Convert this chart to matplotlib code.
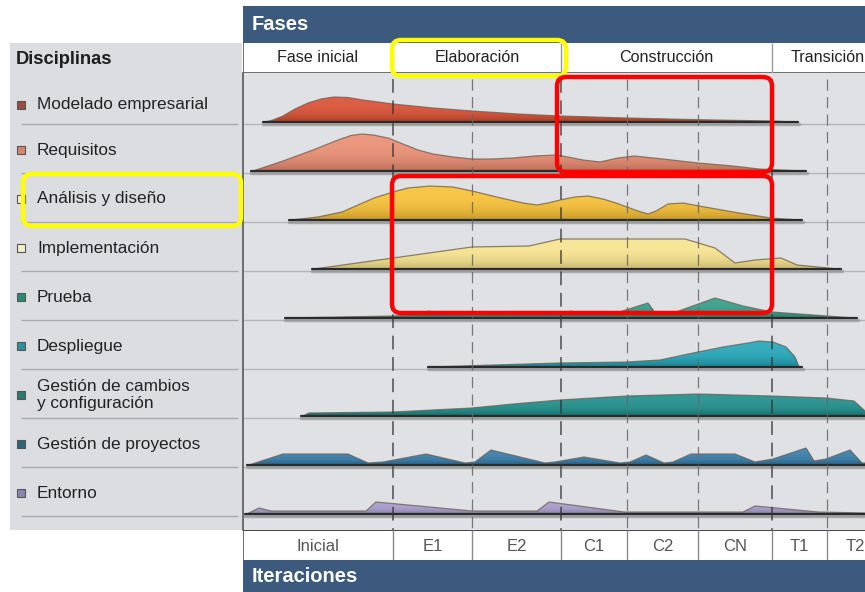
import numpy as np
import matplotlib
matplotlib.use("Agg")
import matplotlib.pyplot as plt
from matplotlib.colors import to_rgb
from matplotlib.patches import Rectangle, FancyBboxPatch

plt.rcParams['font.family'] = ['Liberation Sans', 'DejaVu Sans']

W, H = 865, 592

phases = ["Fase inicial", "Elaboración", "Construcción", "Transición"]
phase_edges = [0, 150, 318, 529, 640]
iterations = ["Inicial", "E1", "E2", "C1", "C2", "CN", "T1", "T2"]
iter_edges = [0, 150, 229, 318, 384, 455, 529, 584, 640]

disciplines = ["Modelado empresarial", "Requisitos", "Análisis y diseño",
               "Implementación", "Prueba", "Despliegue",
               "Gestión de cambios\ny configuración", "Gestión de proyectos",
               "Entorno"]
fill_colors = ["#d8492c", "#e98a6e", "#f7bf2e", "#f8e38a", "#2b9a84",
               "#1ba2b4", "#168a86", "#2f78a6", "#a497c8"]
legend_colors = ["#9c4b45", "#d98472", "#f6edc8", "#f3efc9", "#2b8a77",
                 "#2a929a", "#2a7a70", "#2d6476", "#8c84b4"]

# hump profiles: position on the timeline and height of the effort curve
x_modelado = [22, 30, 40, 52, 65, 78, 91, 105, 120, 150, 190, 229, 275, 317, 384, 455, 528, 552]
h_modelado = [0, 2, 6, 13, 19, 23, 25, 24.5, 22, 18, 14, 11, 8, 6, 4, 2.3, 1, 0]
x_requisitos = [10, 40, 70, 95, 108, 119, 130, 145, 160, 175, 190, 210, 229, 250, 270, 292,
                313, 325, 340, 357, 375, 391, 420, 455, 490, 516, 560]
h_requisitos = [0, 10, 21, 31, 35.5, 37, 36, 33, 27, 21, 17, 14, 12, 12, 13, 15,
                16, 14, 11, 9, 13, 15, 12, 8, 5, 2, 0]
x_analisis = [48, 75, 99, 115, 131, 150, 165, 187, 210, 229, 258, 280, 294, 305, 317, 332, 345,
              360, 373, 395, 405, 413, 425, 440, 456, 496, 528, 556]
h_analisis = [0, 3, 8, 15, 22, 28, 32, 34, 33, 29, 22, 17, 15, 17, 20, 23, 24,
              21, 17, 9, 6, 9, 16, 17, 14, 7, 2, 0]
x_implementacion = [71, 150, 229, 286, 317, 442, 472, 492, 512, 538, 554, 575, 595]
h_implementacion = [0, 11, 22, 23, 30, 30, 21, 6, 9, 11, 4, 2, 0]
x_prueba = [44, 150, 172, 186, 200, 229, 248, 258, 270, 300, 318, 328, 345, 373, 405,
            413, 433, 472, 500, 529, 584, 611]
h_prueba = [0, 2, 3, 7, 3, 3, 4, 6, 3, 3, 4, 7, 3, 5, 15, 4, 6, 20, 12, 6, 2, 0]
x_despliegue = [187, 250, 317, 384, 417, 450, 480, 505, 516, 530, 543, 552, 556]
h_despliegue = [0, 2, 4, 5, 7, 14, 20, 24, 26, 25, 20, 10, 0]
x_cambios = [60, 66, 150, 229, 270, 317, 350, 384, 455, 528, 583, 611, 622]
h_cambios = [0, 3, 4, 8, 12, 16, 18, 20, 22, 20, 18, 15, 5]
x_proyectos = [6, 40, 105, 125, 140, 183, 222, 232, 248, 302, 312, 341, 377, 387, 403,
               421, 430, 448, 492, 512, 530, 563, 571, 583, 607, 619, 622]
h_proyectos = [0, 11, 11, 2, 3, 11, 2, 3, 15, 2, 3, 8, 2, 3, 10,
               2, 3, 11, 11, 3, 6, 17, 4, 6, 15, 2, 2]
x_entorno = [4, 16, 28, 123, 133, 229, 294, 306, 381, 500, 512, 575, 622]
h_entorno = [0, 6, 3, 3, 12, 3, 3, 12, 2, 2, 8, 2, 1]

profiles = [(x_modelado, h_modelado), (x_requisitos, h_requisitos),
            (x_analisis, h_analisis), (x_implementacion, h_implementacion),
            (x_prueba, h_prueba), (x_despliegue, h_despliegue),
            (x_cambios, h_cambios), (x_proyectos, h_proyectos),
            (x_entorno, h_entorno)]

header_blue = "#3c5a7d"
panel_gray = "#dcdde1"
chart_gray = "#e0e1e5"

fig = plt.figure(figsize=(W / 100, H / 100), dpi=100)
fig.patch.set_facecolor("white")


def frac(x0, y0, x1, y1):
    return [x0 / W, 1 - y1 / H, (x1 - x0) / W, (y1 - y0) / H]


# background layer in pixel coordinates
bg = fig.add_axes([0, 0, 1, 1], zorder=0)
bg.set_xlim(0, W)
bg.set_ylim(H, 0)
bg.axis("off")
bg.add_patch(Rectangle((10, 43), 232, 487, facecolor=panel_gray, edgecolor="none"))
bg.add_patch(Rectangle((243, 6), 622, 37, facecolor=header_blue, edgecolor="none"))
bg.add_patch(Rectangle((243, 560), 622, 32, facecolor=header_blue, edgecolor="none"))
bg.text(252, 24, "Fases", color="white", fontsize=14.5, fontweight="bold", va="center")
bg.text(252, 577, "Iteraciones", color="white", fontsize=14.5, fontweight="bold", va="center")
bg.text(16, 59, "Disciplinas", color="#1e1e1e", fontsize=13.2, fontweight="bold", va="center")

# main chart
ax = fig.add_axes(frac(243, 73, 865, 530), zorder=2)
ax.set_facecolor(chart_gray)
ax.set_xticks([])
ax.set_yticks([])
for s in ["top", "right", "bottom"]:
    ax.spines[s].set_visible(False)
ax.spines["left"].set_color("#555555")
ax.spines["left"].set_linewidth(1.2)

row_seps = [51 + 49 * i for i in range(len(disciplines))]
ax.hlines(row_seps, 0, 622, color="#b4b5b9", lw=1, zorder=1)

for i, (xs, hs) in enumerate(profiles):
    base = row_seps[i] - 2
    xs = np.array(xs, dtype=float)
    hs = np.array(hs, dtype=float)
    top = base - hs
    ax.plot([xs[0] - 2, xs[-1] + 4], [base + 1.5, base + 1.5], color="#8a8a8a", lw=2.5,
            alpha=0.6, zorder=2, solid_capstyle="round")
    poly = ax.fill_between(xs, base, top, color=fill_colors[i], lw=0, zorder=3)
    # soft vertical shading, darker only near the base
    c = np.array(to_rgb(fill_colors[i]))
    t = np.linspace(0, 1, 64)[:, None]
    light = c + (1 - c) * 0.12
    dark = c * 0.8
    grad = light[None, :] * (1 - t ** 3) + dark[None, :] * t ** 3
    im = ax.imshow(grad[:, None, :], extent=(xs[0], xs[-1], base, base - hs.max()),
                   aspect="auto", origin="upper", zorder=3.1, interpolation="bilinear")
    im.set_clip_path(poly.get_paths()[0], transform=ax.transData)
    ax.plot(xs, top, color="#6f6458", lw=0.9, alpha=0.8, zorder=4)
    ax.plot([xs[0] - 2, xs[-1] + 3], [base, base], color="#2b2b2b", lw=1.6, zorder=4,
            solid_capstyle="round")

ax.set_xlim(0, 622)
ax.set_ylim(457, 0)

for e in iter_edges[1:-1]:
    strong = e in phase_edges
    ax.vlines(e, 6, 457, colors="#333333" if strong else "#666666",
              lw=1.1 if strong else 0.9, linestyles=(0, (9, 5)), zorder=5,
              alpha=0.85)

# phase row
axp = fig.add_axes(frac(243, 43, 865, 73), zorder=2)
axp.set_xlim(0, 622)
axp.set_ylim(0, 1)
axp.set_facecolor("white")
axp.set_xticks([])
axp.set_yticks([])
for s in axp.spines.values():
    s.set_visible(False)
axp.axhline(0, color="#555555", lw=1.2)
axp.axvline(0, color="#555555", lw=1.2)
axp.vlines(phase_edges[1:-1], 0, 1, colors="#999999", lw=1)
for name, a, b in zip(phases, phase_edges[:-1], phase_edges[1:]):
    axp.text((a + b) / 2, 0.5, name, ha="center", va="center", fontsize=11.6, color="#222222")

# iteration row
axi = fig.add_axes(frac(243, 530, 865, 560), zorder=2)
axi.set_xlim(0, 622)
axi.set_ylim(0, 1)
axi.set_facecolor("white")
axi.set_xticks([])
axi.set_yticks([])
for s in axi.spines.values():
    s.set_visible(False)
axi.axhline(1, color="#444444", lw=1.4)
axi.axvline(0, color="#555555", lw=1.2)
axi.vlines(iter_edges[1:-1], 0, 1, colors="#8a8a8a", lw=1)
for name, a, b in zip(iterations, iter_edges[:-1], iter_edges[1:]):
    axi.text((a + b) / 2, 0.45, name, ha="center", va="center", fontsize=12, color="#555555")

# discipline panel
axl = fig.add_axes(frac(10, 73, 242, 530), zorder=1)
axl.set_xlim(0, 232)
axl.set_ylim(457, 0)
axl.axis("off")
axl.hlines(row_seps, 11, 228, color="#a9aaae", lw=1)
for i, name in enumerate(disciplines):
    yc = row_seps[i] - 23 if i else row_seps[i] - 19
    axl.add_patch(Rectangle((6.5, yc - 4), 8, 8, facecolor=legend_colors[i],
                            edgecolor="#555555", lw=0.8))
    axl.text(27, yc, name, fontsize=12.4, color="#222222", va="center",
             linespacing=1.22)

# highlight boxes
top = fig.add_axes([0, 0, 1, 1], zorder=10)
top.set_xlim(0, W)
top.set_ylim(H, 0)
top.axis("off")
top.patch.set_alpha(0)
for (x0, y0, x1, y1, c) in [(392, 40, 566, 76, "#ffff00"), (23, 174, 241, 226, "#ffff00"),
                            (557, 77, 772, 172, "#ff0000"), (392, 176, 772, 313, "#ff0000")]:
    top.add_patch(FancyBboxPatch((x0, y0), x1 - x0, y1 - y0,
                                 boxstyle="round,pad=0,rounding_size=9",
                                 facecolor="none", edgecolor=c, lw=3.2))

fig.savefig("out.png", dpi=100)
